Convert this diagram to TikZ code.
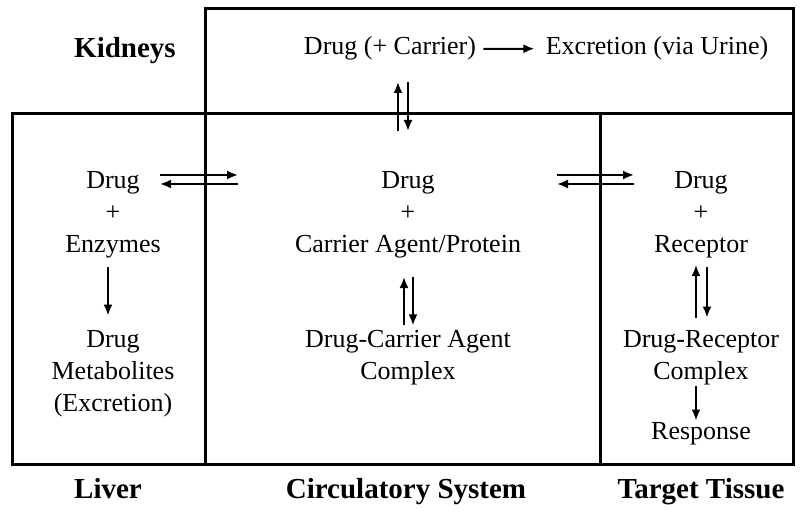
\documentclass[tikz,border=0pt]{standalone}
\usepackage{fontspec}
\setmainfont{Liberation Serif}
\usetikzlibrary{arrows.meta}
\begin{document}
\begin{tikzpicture}[x=0.5pt,y=-0.5pt]
				\tikzstyle{txt}=[font=\fontsize{13}{16}\selectfont,inner sep=0pt,anchor=base]
				\tikzstyle{lbl}=[font=\fontsize{14.5}{17}\selectfont\bfseries,inner sep=0pt,anchor=base]
				\tikzstyle{box}=[draw=black,line width=1.5pt]
				\tikzstyle{arr}=[-{Latex[length=5.5pt,width=4.5pt]},line width=1pt]
				\path[use as bounding box] (0,0) rectangle (800,512);
				% compartments
				\draw[box] (205,9) rectangle (793,114);
				\draw[box] (12,114) rectangle (205,465);
				\draw[box] (205,114) rectangle (600,465);
				\draw[box] (600,114) rectangle (793,465);
				% labels
				\node[lbl](kid) at (125,58){Kidneys};
				\node[lbl](liv) at (108,499){Liver};
				\node[lbl](cir) at (406,499){Circulatory System};
				\node[lbl](tar) at (701,499){Target Tissue};
				% kidneys
				\node[txt](k1) at (390,55){Drug (+ Carrier)};
				\node[txt](k2) at (657,55){Excretion (via Urine)};
				% liver
				\node[txt](l1) at (113,189){Drug};
				\node[txt](l2) at (113,221){+};
				\node[txt](l3) at (113,253){Enzymes};
				\node[txt](l4) at (113,348){Drug};
				\node[txt](l5) at (113,380){Metabolites};
				\node[txt](l6) at (113,412){(Excretion)};
				% circulatory system
				\node[txt](c1) at (408,189){Drug};
				\node[txt](c2) at (408,221){+};
				\node[txt](c3) at (408,253){Carrier Agent/Protein};
				\node[txt](c4) at (408,348){Drug-Carrier Agent};
				\node[txt](c5) at (408,380){Complex};
				% target tissue
				\node[txt](t1) at (701,189){Drug};
				\node[txt](t2) at (701,221){+};
				\node[txt](t3) at (701,253){Receptor};
				\node[txt](t4) at (701,348){Drug-Receptor};
				\node[txt](t5) at (701,380){Complex};
				\node[txt](t6) at (701,440){Response};
				% ends of the arrows across the walls
				\coordinate (kc1) at (398,131);
				\coordinate (kc2) at (398,82);
				\coordinate (kc3) at (408,82);
				\coordinate (kc4) at (408,131);
				\coordinate (lc1) at (160,175);
				\coordinate (lc2) at (238,175);
				\coordinate (lc3) at (160,184);
				\coordinate (lc4) at (238,184);
				\coordinate (ct1) at (557,175);
				\coordinate (ct2) at (634,175);
				\coordinate (ct3) at (557,184);
				\coordinate (ct4) at (634,184);
				\path[arr]
					(k1.east) edge[shorten <=3.5pt,shorten >=5.5pt] (k2.west)
					(kc1) edge (kc2)
					(kc3) edge (kc4)
					(lc1) edge (lc2)
					(lc4) edge (lc3)
					(ct1) edge (ct2)
					(ct4) edge (ct3)
					([xshift=-2.5pt]l3.south) edge[shorten <=4pt,shorten >=7.5pt] ([xshift=-2.5pt]l4.north)
					([xshift=-2pt]c4.north) edge[shorten <=2.5pt,shorten >=9pt] ([xshift=-2pt]c3.south)
					([xshift=2.5pt]c3.south) edge[shorten <=9pt,shorten >=2.5pt] ([xshift=2.5pt]c4.north)
					([xshift=-2.5pt]t4.north) edge[shorten <=6.5pt,shorten >=3pt] ([xshift=-2.5pt]t3.south)
					([xshift=3pt]t3.south) edge[shorten <=4pt,shorten >=6.5pt] ([xshift=3pt]t4.north)
					([xshift=-2.5pt]t5.south) edge[shorten <=0pt,shorten >=1pt] ([xshift=-2.5pt]t6.north);
			\end{tikzpicture}
\end{document}
